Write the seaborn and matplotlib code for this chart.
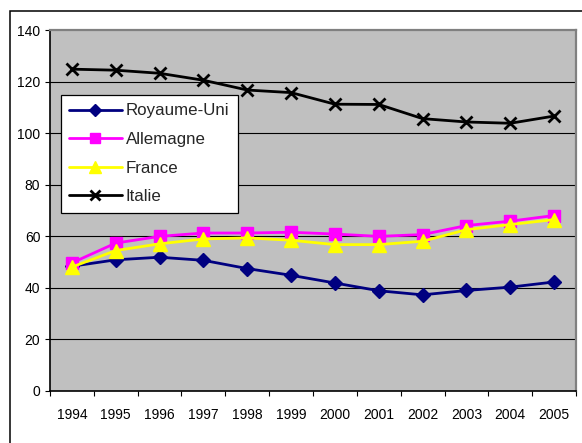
import matplotlib
matplotlib.use("Agg")
import matplotlib.pyplot as plt
from matplotlib.patches import Rectangle
from matplotlib.ticker import FixedLocator, MultipleLocator
import numpy as np
import pandas as pd
import seaborn as sns

# Data series
annees = ["1994", "1995", "1996", "1997", "1998", "1999",
          "2000", "2001", "2002", "2003", "2004", "2005"]
royaume_uni = [48.3, 50.8, 51.8, 50.6, 47.4, 44.8, 41.8, 38.8, 37.2, 38.9, 40.2, 42.2]
allemagne = [49.6, 57.3, 59.9, 61.2, 61.2, 61.5, 60.8, 59.9, 60.6, 64.1, 65.8, 68.0]
france = [48.0, 54.4, 57.0, 58.9, 59.3, 58.4, 56.7, 56.7, 58.0, 62.5, 64.5, 66.4]
italie = [124.8, 124.4, 123.2, 120.5, 116.7, 115.7, 111.2, 111.1, 105.6, 104.3, 103.8, 106.6]

series = {
    "Royaume-Uni": royaume_uni,
    "Allemagne": allemagne,
    "France": france,
    "Italie": italie,
}
styles = {
    "Royaume-Uni": dict(color="#000080", marker="D", markersize=7, mew=1),
    "Allemagne": dict(color="#FF00FF", marker="s", markersize=9, mew=1),
    "France": dict(color="#FFFF00", marker="^", markersize=10, mew=1),
    "Italie": dict(color="#000000", marker="x", markersize=9, mew=2),
}

df = pd.DataFrame({
    "pays": np.repeat(list(series.keys()), len(annees)),
    "idx": np.tile(np.arange(len(annees)), len(series)),
    "valeur": np.concatenate([series[k] for k in series]),
})

sns.set_theme(style="ticks")
plt.rcParams["font.family"] = ["Liberation Sans", "DejaVu Sans"]

W, H = 582, 443
fig = plt.figure(figsize=(W / 100, H / 100), dpi=100)
fig.patch.set_facecolor("white")

left, right, top, bottom = 50, 576, 30, 390.7
ax = fig.add_axes([left / W, 1 - bottom / H, (right - left) / W, (bottom - top) / H])
ax.set_facecolor("#C0C0C0")

# Outer chart frame (extends past the right and bottom edges)
fig.patches.append(Rectangle((10 / W, -0.2), 1.2, 1.2 - 11 / H,
                             transform=fig.transFigure, fill=False,
                             edgecolor="black", linewidth=1.1, zorder=0))

for nom in series:
    st = styles[nom]
    sns.lineplot(data=df[df["pays"] == nom], x="idx", y="valeur", ax=ax,
                 color=st["color"], marker=st["marker"], markersize=st["markersize"],
                 markeredgecolor=st["color"], markeredgewidth=st["mew"],
                 linewidth=2, label=nom, zorder=3)

ax.set_xlim(-0.5, len(annees) - 0.5)
ax.set_ylim(0, 140)
ax.set_xlabel("")
ax.set_ylabel("")

# Y axis
ax.yaxis.set_major_locator(MultipleLocator(20))
ax.tick_params(axis="y", direction="out", length=3.5, width=0.8, color="black",
               labelsize=10, pad=3.5, labelcolor="black")
for yv in range(20, 140, 20):
    ax.axhline(yv, color="black", linewidth=0.8, zorder=1)

# X axis: labels centred on categories, tick marks between categories
ax.set_xticks(np.arange(len(annees)))
ax.set_xticklabels(annees)
ax.xaxis.set_minor_locator(FixedLocator(np.arange(-0.5, len(annees), 1.0)))
ax.tick_params(axis="x", which="major", length=0, labelsize=10, pad=12.5, labelcolor="black")
ax.tick_params(axis="x", which="minor", direction="out", length=3.5, width=0.8, color="black")

for side in ["top", "right"]:
    ax.spines[side].set_visible(True)
    ax.spines[side].set_color("#808080")
    ax.spines[side].set_linewidth(1.6)
for side in ["left", "bottom"]:
    ax.spines[side].set_color("black")
    ax.spines[side].set_linewidth(1.2)

leg = ax.legend(loc="upper left", bbox_to_anchor=(60.5 / W, 1 - 95 / H),
                bbox_transform=fig.transFigure, borderaxespad=0,
                fontsize=12.2, frameon=True, fancybox=False, shadow=False,
                edgecolor="black", facecolor="white", framealpha=1,
                handlelength=3.1, handletextpad=0.25, labelspacing=0.8,
                borderpad=0.5, markerscale=0.85)
leg.get_frame().set_linewidth(0.9)
leg.set_zorder(5)

fig.savefig("out.png", dpi=100)
